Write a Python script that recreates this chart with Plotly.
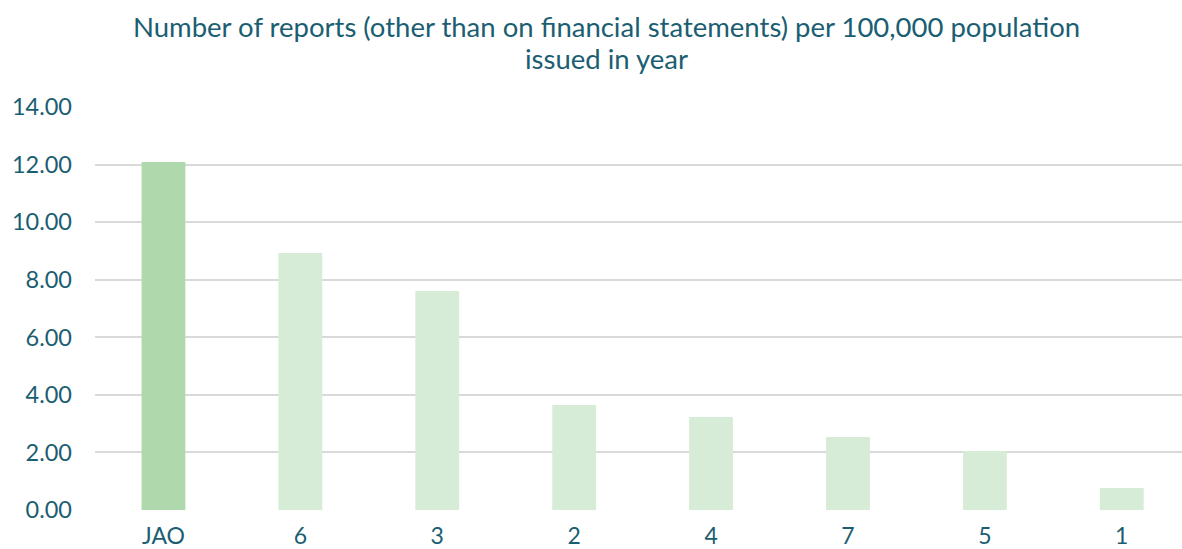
import plotly.graph_objects as go

categories = ["JAO", "6", "3", "2", "4", "7", "5", "1"]
values = [12.09, 8.93, 7.61, 3.65, 3.23, 2.54, 2.05, 0.76]
bar_colors = ["#afd9ad", "#d7ecd6", "#d7ecd6", "#d7ecd6", "#d7ecd6", "#d7ecd6", "#d7ecd6", "#d7ecd6"]
y_ticks = [0, 2, 4, 6, 8, 10, 12, 14]
y_labels = ["0.00", "2.00", "4.00", "6.00", "8.00", "10.00", "12.00", "14.00"]
title_lines = ["Number of reports (other than on financial statements) per 100,000 population", "issued in year"]

text_color = "#1b5e71"
font_family = "Lato, 'Noto Sans', sans-serif"

H, T, B = 549, 107, 39
plot_h = H - T - B

fig = go.Figure(
    go.Bar(
        x=list(range(len(categories))),
        y=values,
        marker=dict(color=bar_colors, line=dict(width=0)),
        width=0.32,
    )
)

fig.update_layout(
    width=1182,
    height=H,
    margin=dict(l=95, r=0, t=T, b=B, autoexpand=False),
    paper_bgcolor="white",
    plot_bgcolor="white",
    showlegend=False,
    font=dict(family=font_family, color=text_color),
)

for line, py in zip(title_lines, [27, 58]):
    fig.add_annotation(
        text=line,
        xref="paper", yref="paper",
        x=(606 - 95) / (1182 - 95), y=(H - B - py) / plot_h,
        xanchor="center", yanchor="middle",
        showarrow=False,
        font=dict(size=27.5, color=text_color, family=font_family),
    )

fig.update_xaxes(
    tickmode="array",
    tickvals=list(range(len(categories))),
    ticktext=categories,
    range=[-0.5, 7.44],
    showgrid=False,
    zeroline=False,
    showline=False,
    ticks="",
    automargin=False,
    ticklabelstandoff=10,
    tickfont=dict(size=23, color=text_color),
)

fig.update_yaxes(
    range=[0, 14],
    tickmode="array",
    tickvals=y_ticks,
    ticktext=y_labels,
    showgrid=True,
    gridcolor="#d9d9d9",
    gridwidth=2,
    zeroline=False,
    showline=False,
    ticks="",
    automargin=False,
    ticklabelstandoff=22,
    tickfont=dict(size=23.5, color=text_color),
)

fig.write_html("out.html")
